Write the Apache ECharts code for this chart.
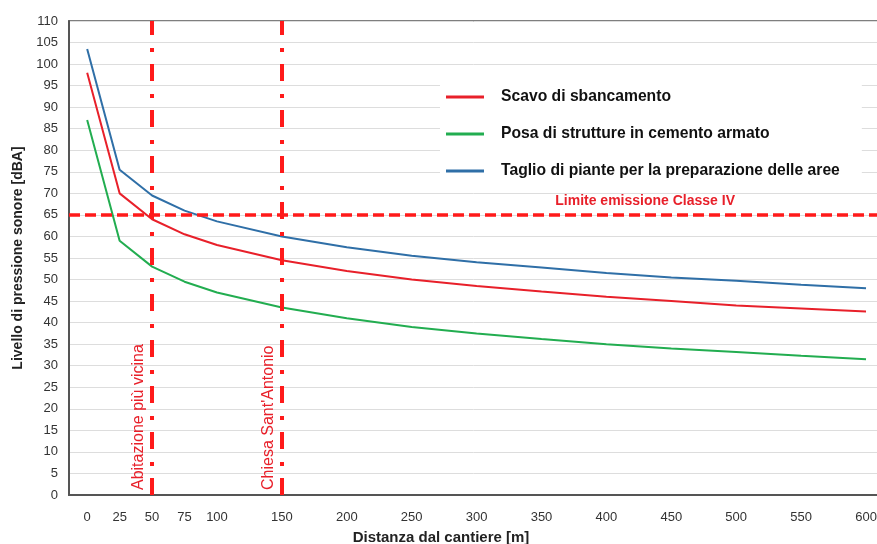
<!DOCTYPE html>
<html>
<head>
<meta charset="utf-8">
<script src="https://cdn.jsdelivr.net/npm/echarts@6/dist/echarts.min.js"></script>
<style>
  html, body { margin: 0; padding: 0; background: #fff; }
  #chart { width: 877px; height: 544px; }
</style>
</head>
<body>
<div id="chart"></div>
<script>
// distances [m] where values were read
const distances = [0, 25, 50, 75, 100, 150, 200, 250, 300, 350, 400, 450, 500, 550, 600];
const scavo  = [98, 70, 64, 60.5, 58, 54.5, 52, 50, 48.5, 47.2, 46, 45, 44, 43.3, 42.6];
const posa   = [87, 59, 53, 49.5, 47, 43.5, 41, 39, 37.5, 36.2, 35, 34, 33.2, 32.3, 31.5];
const taglio = [103.5, 75.5, 69.5, 66, 63.5, 60, 57.5, 55.5, 54, 52.8, 51.5, 50.5, 49.7, 48.8, 48];
const xTickLabels = [0, 25, 50, 75, 100, 150, 200, 250, 300, 350, 400, 450, 500, 550, 600];
const limite = 65;
const receptors = [{ x: 50, name: 'Abitazione più vicina' }, { x: 150, name: "Chiesa Sant'Antonio" }];

const font = 'Liberation Sans, Arial, sans-serif';
const pair = arr => distances.map((d, i) => [d, arr[i]]);

const chart = echarts.init(document.getElementById('chart'));
chart.setOption({
  backgroundColor: '#fff',
  animation: false,
  textStyle: { fontFamily: font },
  grid: { left: 69, right: -2, top: 21, bottom: 49, outerBoundsMode: 'none',
    show: true, borderColor: '#555', borderWidth: 1.5 },
  legend: {
    orient: 'vertical', left: 440, top: 81,
    backgroundColor: '#fff', padding: [8, 22, 8, 6],
    icon: 'rect', itemWidth: 38, itemHeight: 3, itemGap: 21,
    textStyle: { fontFamily: font, fontSize: 15.7, fontWeight: 'bold', color: '#111', padding: [0, 0, 0, 12] },
    data: ['Scavo di sbancamento', 'Posa di strutture in cemento armato', 'Taglio di piante per la preparazione delle aree']
  },
  xAxis: {
    type: 'value', min: -14, max: 610,
    name: 'Distanza dal cantiere [m]', nameLocation: 'middle', nameGap: 35,
    nameTextStyle: { fontFamily: font, fontSize: 15, fontWeight: 'bold', color: '#222', padding: [0, 66, 0, 0] },
    axisLine: { show: true, lineStyle: { color: '#555', width: 2 } },
    axisTick: { show: false },
    axisLabel: { customValues: xTickLabels, margin: 16, fontSize: 13, color: '#333' },
    splitLine: { show: false }
  },
  yAxis: {
    type: 'value', min: 0, max: 110, interval: 5,
    name: 'Livello di pressione sonore [dBA]', nameLocation: 'middle', nameGap: 39,
    nameTextStyle: { fontFamily: font, fontSize: 14, fontWeight: 'bold', color: '#222' },
    axisLine: { show: true, onZero: false, lineStyle: { color: '#555', width: 2 } },
    axisTick: { show: false },
    axisLabel: { fontSize: 13, color: '#333', margin: 11 },
    splitLine: { lineStyle: { color: '#ddd', width: 1 } }
  },
  series: [
    {
      name: 'Scavo di sbancamento', type: 'line', data: pair(scavo),
      symbol: 'none', lineStyle: { color: '#e8202a', width: 2 }, itemStyle: { color: '#e8202a' }, z: 3
    },
    {
      name: 'Posa di strutture in cemento armato', type: 'line', data: pair(posa),
      symbol: 'none', lineStyle: { color: '#22ad50', width: 2 }, itemStyle: { color: '#22ad50' }, z: 3
    },
    {
      name: 'Taglio di piante per la preparazione delle aree', type: 'line', data: pair(taglio),
      symbol: 'none', lineStyle: { color: '#2f6fa7', width: 2 }, itemStyle: { color: '#2f6fa7' }, z: 3
    },
    {
      name: 'markers', type: 'line', data: [], z: 4,
      markLine: {
        silent: true, symbol: 'none',
        data: [
          ...receptors.map(r => ({
            xAxis: r.x,
            lineStyle: { color: '#ff1a1a', width: 4, type: [17, 12, 4, 13] },
            label: { show: true, position: 'insideStartTop', formatter: r.name, distance: 5,
              color: '#e8202a', fontSize: 16, fontFamily: font }
          })),
          {
            yAxis: limite,
            lineStyle: { color: '#ff1a1a', width: 3.5, type: [11, 5] },
            label: { show: true, position: 'insideEndTop', formatter: 'Limite emissione Classe IV',
              color: '#e8202a', fontSize: 14, fontWeight: 'bold', fontFamily: font, distance: 7, offset: [-137, 0] }
          }
        ]
      }
    }
  ]
});
</script>
</body>
</html>
